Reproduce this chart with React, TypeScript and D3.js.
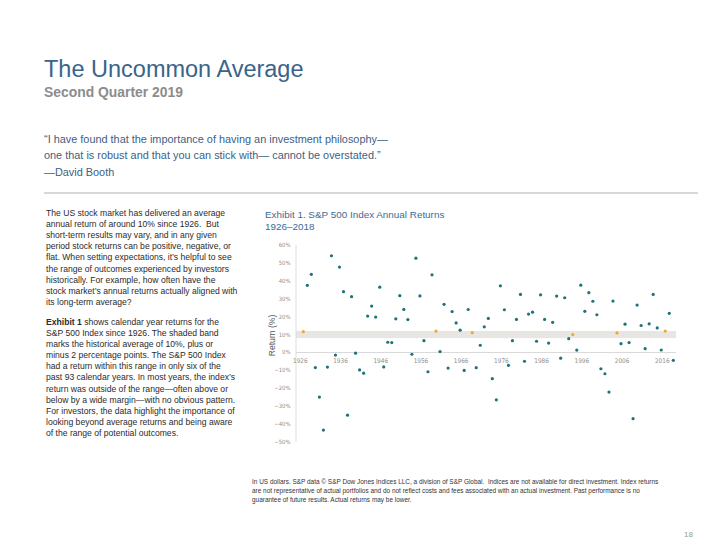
import React, { useEffect, useRef } from 'react';
import * as d3 from 'd3';

// S&P 500 calendar-year total returns (%), 1926-2018
const years = d3.range(1926, 2019);
const returns = [
  11.62, 37.49, 43.61, -8.42, -24.90, -43.34, -8.19, 53.99, -1.44, 47.67,
  33.92, -35.03, 31.12, -0.41, -9.78, -11.59, 20.34, 25.90, 19.75, 36.44,
  -8.07, 5.71, 5.50, 18.79, 31.71, 24.02, 18.37, -0.99, 52.62, 31.56,
  6.56, -10.78, 43.36, 11.96, 0.47, 26.89, -8.73, 22.80, 16.48, 12.45,
  -10.06, 23.98, 11.06, -8.50, 4.01, 14.31, 18.98, -14.66, -26.47, 37.20,
  23.84, -7.18, 6.56, 18.44, 32.42, -4.91, 21.41, 22.51, 6.27, 32.16,
  18.47, 5.23, 16.81, 31.49, -3.17, 30.55, 7.67, 9.99, 1.31, 37.58,
  22.96, 33.36, 28.58, 21.04, -9.10, -11.89, -22.10, 28.68, 10.88, 4.91,
  15.79, 5.49, -37.00, 26.46, 15.06, 2.11, 16.00, 32.39, 13.69, 1.38,
  11.96, 21.83, -4.38,
];
const bandLow = 8;
const bandHigh = 12;
const yTicks = [60, 50, 40, 30, 20, 10, 0, -10, -20, -30, -40, -50];
const yearTicks = [1926, 1936, 1946, 1956, 1966, 1976, 1986, 1996, 2006, 2016];

const quoteLines = [
  '“I have found that the importance of having an investment philosophy—',
  'one that is robust and that you can stick with— cannot be overstated.”',
  '—David Booth',
];

const para1 = [
  'The US stock market has delivered an average',
  'annual return of around 10% since 1926.  But',
  'short-term results may vary, and in any given',
  'period stock returns can be positive, negative, or',
  'flat. When setting expectations, it’s helpful to see',
  'the range of outcomes experienced by investors',
  'historically. For example, how often have the',
  'stock market’s annual returns actually aligned with',
  'its long-term average?',
];

const para2 = [
  ' shows calendar year returns for the',
  'S&P 500 Index since 1926. The shaded band',
  'marks the historical average of 10%, plus or',
  'minus 2 percentage points. The S&P 500 Index',
  'had a return within this range in only six of the',
  'past 93 calendar years. In most years, the index’s',
  'return was outside of the range—often above or',
  'below by a wide margin—with no obvious pattern.',
  'For investors, the data highlight the importance of',
  'looking beyond average returns and being aware',
  'of the range of potential outcomes.',
];

const footLines = [
  'In US dollars. S&P data © S&P Dow Jones Indices LLC, a division of S&P Global.  Indices are not available for direct investment. Index returns',
  'are not representative of actual portfolios and do not reflect costs and fees associated with an actual investment. Past performance is no',
  'guarantee of future results. Actual returns may be lower.',
];

const WIDTH = 720;
const HEIGHT = 556;

const App: React.FC = () => {
  const svgRef = useRef<SVGSVGElement>(null);

  useEffect(() => {
    if (!svgRef.current) return;
    const svg = d3.select(svgRef.current);
    svg.selectAll('*').remove();

    const sans = '"Liberation Sans", Arial, sans-serif';
    const narrow = '"Liberation Sans Narrow", "DejaVu Sans Condensed", sans-serif';

    // --- Header ---
    svg.append('text')
      .attr('x', 44).attr('y', 77)
      .attr('font-family', sans).attr('font-size', 23.5)
      .attr('fill', '#3a6489')
      .text('The Uncommon Average');

    svg.append('text')
      .attr('x', 44).attr('y', 97)
      .attr('font-family', sans).attr('font-size', 13.9).attr('font-weight', 'bold')
      .attr('fill', '#8c8c8c')
      .text('Second Quarter 2019');

    svg.append('g').selectAll('text')
      .data(quoteLines)
      .join('text')
      .attr('x', 44)
      .attr('y', (d, i) => 143 + i * 16.3)
      .attr('font-family', sans).attr('font-size', 10.9)
      .attr('fill', '#3d6185')
      .text(d => d);

    svg.append('line')
      .attr('x1', 44).attr('x2', 698)
      .attr('y1', 193).attr('y2', 193)
      .attr('stroke', '#b0b0b0').attr('stroke-width', 1);

    // --- Body copy ---
    const lh = 11.1;
    const body = svg.append('g')
      .attr('font-family', sans).attr('font-size', 8.6)
      .attr('fill', '#2b2b2b');

    body.selectAll('text.p1')
      .data(para1)
      .join('text')
      .attr('class', 'p1')
      .attr('x', 46)
      .attr('y', (d, i) => 216 + i * lh)
      .style('white-space', 'pre')
      .text(d => d);

    const p2Top = 216 + para1.length * lh + 9;
    const p2 = body.selectAll('text.p2')
      .data(para2)
      .join('text')
      .attr('class', 'p2')
      .attr('x', 46)
      .attr('y', (d, i) => p2Top + i * lh)
      .style('white-space', 'pre');
    p2.each(function (d, i) {
      const t = d3.select(this);
      if (i === 0) {
        t.append('tspan').attr('font-weight', 'bold').text('Exhibit 1');
      }
      t.append('tspan').text(d);
    });

    // --- Exhibit title ---
    svg.append('text')
      .attr('x', 265).attr('y', 218)
      .attr('font-family', sans).attr('font-size', 9.9)
      .attr('fill', '#3d6a95')
      .text('Exhibit 1. S&P 500 Index Annual Returns');
    svg.append('text')
      .attr('x', 265).attr('y', 230)
      .attr('font-family', sans).attr('font-size', 9.9)
      .attr('fill', '#3d6a95')
      .text('1926–2018');

    // --- Chart ---
    const x = d3.scaleLinear().domain([1926, 2018]).range([303.3, 673.3]);
    const y = d3.scaleLinear().domain([-50, 60]).range([442, 245]);
    const left = 296;
    const right = 676;

    const g = svg.append('g');

    g.append('rect')
      .attr('x', left).attr('width', right - left)
      .attr('y', y(bandHigh)).attr('height', y(bandLow) - y(bandHigh))
      .attr('fill', '#e8e6e2');

    g.append('line')
      .attr('x1', left).attr('x2', left)
      .attr('y1', y(60)).attr('y2', y(-50))
      .attr('stroke', '#d4d4d4').attr('stroke-width', 0.8);

    g.append('line')
      .attr('x1', left).attr('x2', right)
      .attr('y1', y(0)).attr('y2', y(0))
      .attr('stroke', '#cfcfcf').attr('stroke-width', 0.8);

    g.append('g').selectAll('text')
      .data(yTicks)
      .join('text')
      .attr('x', 290.5)
      .attr('y', d => y(d) + 2)
      .attr('text-anchor', 'end')
      .attr('font-family', narrow).attr('font-size', 5.9)
      .attr('fill', '#8f8f8f')
      .text(d => (d < 0 ? `−${Math.abs(d)}%` : `${d}%`));

    g.append('g').selectAll('text')
      .data(yearTicks)
      .join('text')
      .attr('x', d => x(d) - 3)
      .attr('y', y(0) + 11)
      .attr('text-anchor', 'middle')
      .attr('font-family', narrow).attr('font-size', 6.4)
      .attr('fill', '#8f8f8f')
      .text(d => String(d));

    g.append('text')
      .attr('transform', `translate(275, ${(y(60) + y(-50)) / 2 - 8}) rotate(-90)`)
      .attr('text-anchor', 'middle')
      .attr('font-family', sans).attr('font-size', 8.6)
      .attr('fill', '#555')
      .text('Return (%)');

    g.append('g').selectAll('circle')
      .data(years)
      .join('circle')
      .attr('cx', d => x(d))
      .attr('cy', (d, i) => y(returns[i]))
      .attr('r', 1.6)
      .attr('fill', (d, i) => (returns[i] >= bandLow && returns[i] <= bandHigh ? '#f0a733' : '#1f7277'));

    // --- Footnote ---
    svg.append('g').selectAll('text')
      .data(footLines)
      .join('text')
      .attr('x', 252)
      .attr('y', (d, i) => 484 + i * 9)
      .attr('font-family', sans).attr('font-size', 6.45)
      .attr('fill', '#333')
      .style('white-space', 'pre')
      .text(d => d);

    svg.append('text')
      .attr('x', 693).attr('y', 537)
      .attr('text-anchor', 'end')
      .attr('font-family', sans).attr('font-size', 8)
      .attr('fill', '#9a9a9a')
      .text('18');
  }, []);

  return (
    <div style={{ position: 'absolute', left: 0, top: 0, width: WIDTH, height: HEIGHT, background: '#fff' }}>
      <svg ref={svgRef} width={WIDTH} height={HEIGHT} viewBox={`0 0 ${WIDTH} ${HEIGHT}`} style={{ display: 'block' }} />
    </div>
  );
};

export default App;
